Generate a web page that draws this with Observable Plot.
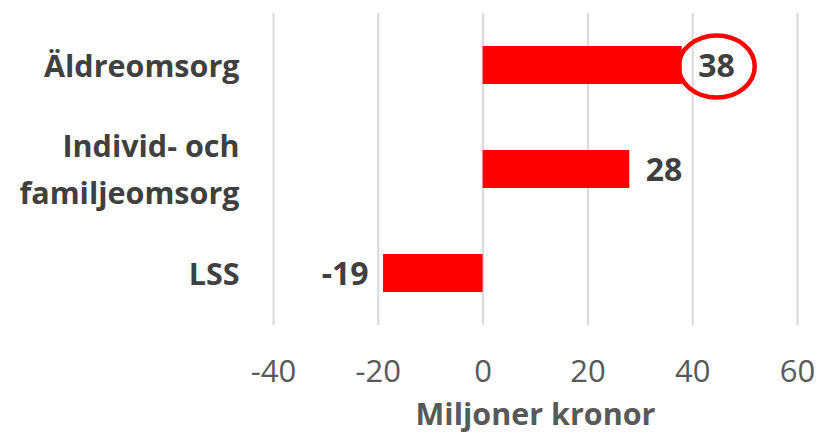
<!DOCTYPE html>
<html>
<head>
<meta charset="utf-8">
<script src="https://cdn.jsdelivr.net/npm/d3@7"></script>
<script src="https://cdn.jsdelivr.net/npm/@observablehq/plot@0.6"></script>
<style>
  html, body { margin: 0; padding: 0; background: #fff; }
</style>
</head>
<body>
<div id="chart"></div>
<script>
const categories = ["Äldreomsorg", "Individ- och familjeomsorg", "LSS"];
const categoryLabels = ["Äldreomsorg", "Individ- och\nfamiljeomsorg", "LSS"];
const values = [38, 28, -19];
const xTicks = [-40, -20, 0, 20, 40, 60];
const highlighted = "Äldreomsorg";
const axisTitle = "Miljoner kronor";

const data = categories.map((c, i) => ({cat: c, value: values[i]}));
const labelOf = new Map(categories.map((c, i) => [c, categoryLabels[i]]));

const font = "'Open Sans', sans-serif";
const dark = "#404040";
const gray = "#595959";

const plot = Plot.plot({
  width: 817,
  height: 443,
  marginTop: 13,
  marginBottom: 118,
  marginLeft: 273,
  marginRight: 20,
  style: {fontFamily: font, background: "#fff"},
  x: {domain: [-40, 60]},
  y: {domain: categories, paddingInner: 0.635, paddingOuter: 0.3175},
  marks: [
    Plot.gridX(xTicks, {stroke: "#d9d9d9", strokeOpacity: 1, strokeWidth: 2}),
    Plot.barX(data, {x: "value", y: "cat", fill: "#ff0000"}),
    Plot.text(data.filter(d => d.value >= 0), {x: "value", y: "cat", text: d => String(d.value), textAnchor: "start", dx: 16, dy: 1, fontSize: 32, fontWeight: "bold", fill: dark}),
    Plot.text(data.filter(d => d.value < 0), {x: "value", y: "cat", text: d => String(d.value), textAnchor: "end", dx: -15, dy: 1, fontSize: 32, fontWeight: "bold", fill: dark}),
    Plot.axisX({ticks: xTicks, tickSize: 0, tickPadding: 34, fontSize: 31, fill: gray, tickFormat: d => String(d), label: null}),
    Plot.axisY({tickSize: 0, tickPadding: 34, dy: -4, fontSize: 30.5, fontWeight: "bold", fill: dark, lineHeight: 1.55, tickFormat: d => labelOf.get(d), label: null}),
    Plot.text([axisTitle], {frameAnchor: "bottom", dy: 99, fontSize: 30.5, fontWeight: "bold", fill: gray})
  ]
});

// highlight ring around the Äldreomsorg value label
const xs = plot.scale("x"), ys = plot.scale("y");
const hv = values[categories.indexOf(highlighted)];
d3.select(plot).append("ellipse")
  .attr("cx", xs.apply(hv) + 35)
  .attr("cy", ys.apply(highlighted) + ys.bandwidth / 2 + 1.5)
  .attr("rx", 38)
  .attr("ry", 31)
  .attr("fill", "none")
  .attr("stroke", "#ff0000")
  .attr("stroke-width", 4.5);

document.getElementById("chart").appendChild(plot);
</script>
</body>
</html>
